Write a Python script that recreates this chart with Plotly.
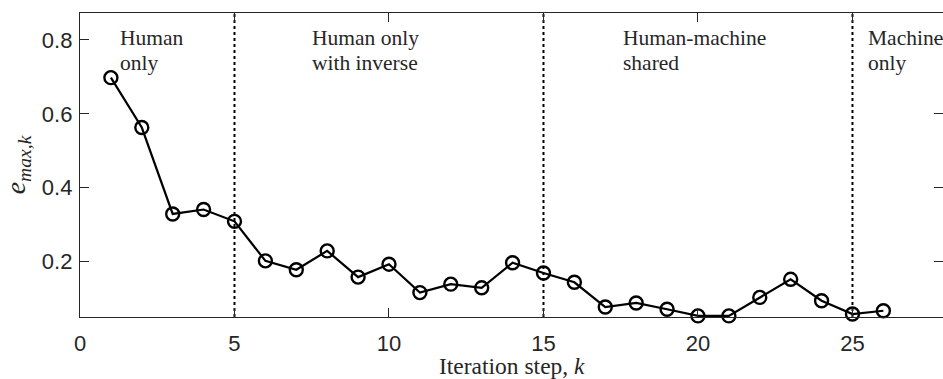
import plotly.graph_objects as go

# Maximum error per iteration step
steps = list(range(1, 27))
e_max = [0.698, 0.563, 0.329, 0.341, 0.309, 0.202, 0.178, 0.229, 0.158, 0.193,
         0.116, 0.139, 0.129, 0.197, 0.169, 0.144, 0.077, 0.088, 0.071, 0.053,
         0.053, 0.103, 0.152, 0.094, 0.058, 0.067]

# Phase boundaries and phase labels (two lines each)
phase_bounds = [5, 15, 25]
phase_x = [1.22, 7.45, 17.5, 25.45]
phase_line1 = ["Human", "Human only", "Human-machine", "Machine"]
phase_line2 = ["only", "with inverse", "shared", "only"]

x_ticks = [0, 5, 10, 15, 20, 25]
y_ticks = [0.2, 0.4, 0.6, 0.8]
y_range = [0.05, 0.873]
x_range = [0, 27.93]

axis_col = "#262626"
serif = "Liberation Serif, Times New Roman, serif"
sans = "Liberation Sans, Arial, Helvetica, sans-serif"

fig = go.Figure()

fig.add_trace(go.Scatter(
    x=steps, y=e_max, mode="lines+markers",
    line=dict(color="black", width=2.2),
    marker=dict(symbol="circle-open", size=13, color="black", line=dict(width=2.4)),
    showlegend=False, cliponaxis=False,
))

# dummy trace on right axis so its ticks are drawn
fig.add_trace(go.Scatter(x=[None], y=[None], yaxis="y2", showlegend=False))

for b in phase_bounds:
    fig.add_shape(type="line", x0=b, x1=b, y0=0, y1=1, xref="x", yref="paper",
                  line=dict(color="black", width=2, dash="dot"), layer="below")

for px, l1, l2 in zip(phase_x, phase_line1, phase_line2):
    for ly, txt in ((0.806, l1), (0.739, l2)):
        fig.add_annotation(x=px, y=ly, xref="x", yref="y", text=txt,
                           showarrow=False, xanchor="left", yanchor="middle",
                           align="left",
                           font=dict(family=serif, size=21.5, color=axis_col))

# x-axis title placed below the tick labels
fig.add_annotation(x=0.5, y=-0.161, xref="paper", yref="paper",
                   text="Iteration step, <i>k</i>", showarrow=False,
                   xanchor="center", yanchor="middle", borderpad=0,
                   font=dict(family=serif, size=23.5, color=axis_col))

fig.update_layout(
    width=943, height=379,
    margin=dict(l=80, r=0, t=13, b=62),
    plot_bgcolor="white", paper_bgcolor="white",
    xaxis=dict(range=x_range, tickvals=x_ticks, ticks="inside", ticklen=9,
               tickcolor=axis_col, showline=True, linecolor=axis_col, linewidth=1.3,
               mirror="ticks", showgrid=False, zeroline=False, ticklabelstandoff=6,
               automargin=False,
               tickfont=dict(family=sans, size=22, color=axis_col)),
    yaxis=dict(range=y_range, tickvals=y_ticks, tickformat=".1f", ticks="inside",
               ticklen=9, tickcolor=axis_col, showline=True, linecolor=axis_col,
               linewidth=1.3, showgrid=False, zeroline=False, ticklabelstandoff=2,
               automargin=False,
               tickfont=dict(family=sans, size=22, color=axis_col),
               title=dict(text="<i>e</i><sub><i>max,k</i></sub>", standoff=9,
                          font=dict(family=serif, size=28, color=axis_col))),
    yaxis2=dict(range=y_range, tickvals=y_ticks, ticks="inside", ticklen=9,
                tickcolor=axis_col, overlaying="y", side="right", automargin=False,
                showticklabels=False, showline=False, showgrid=False, zeroline=False),
)

fig.write_html("out.html")
